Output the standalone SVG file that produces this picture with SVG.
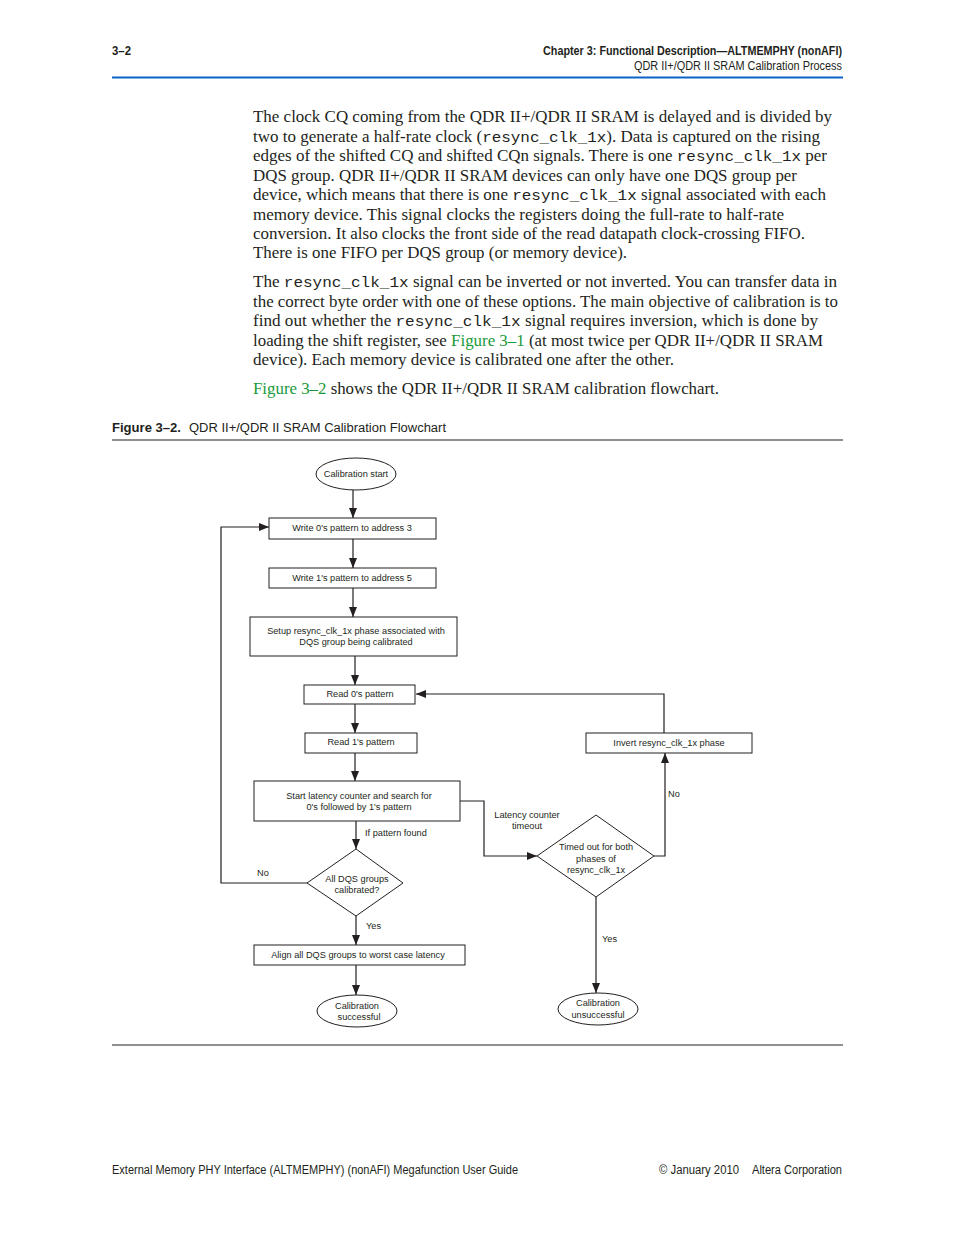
<svg xmlns="http://www.w3.org/2000/svg" width="954" height="1235" viewBox="0 0 954 1235">
<style>
.hd{font-family:"Liberation Sans",Arial,sans-serif;font-size:12px;fill:#231f20}
.b{font-weight:bold}
.body{font-family:"Liberation Serif","Times New Roman",serif;font-size:16px;fill:#231f20}
.mono{font-family:"Liberation Mono","Courier New",monospace;font-size:15px}
.lnk{fill:#1a9a3a}
.n{fill:#fff;stroke:#231f20;stroke-width:1}
.t{font-family:"Liberation Sans",Arial,sans-serif;font-size:9.2px;fill:#231f20;text-anchor:middle}
.lbl{font-family:"Liberation Sans",Arial,sans-serif;font-size:9.2px;fill:#231f20}
.c{fill:none;stroke:#231f20;stroke-width:1.2}
</style>
<defs>
<marker id="ah" viewBox="0 0 10 10" refX="10" refY="5" markerWidth="10" markerHeight="10" markerUnits="userSpaceOnUse" orient="auto">
<path d="M0,1 L10,5 L0,9 Z" fill="#231f20"/>
</marker>
</defs>
<rect width="954" height="1235" fill="#fff"/>
<g id="header">
<text class="hd b" x="112" y="55" textLength="19" lengthAdjust="spacingAndGlyphs">3–2</text>
<text class="hd b" x="842" y="55" text-anchor="end" textLength="299" lengthAdjust="spacingAndGlyphs">Chapter 3:  Functional Description—ALTMEMPHY (nonAFI)</text>
<text class="hd" x="842" y="70" text-anchor="end" textLength="208" lengthAdjust="spacingAndGlyphs">QDR II+/QDR II SRAM Calibration Process</text>
<line x1="112" y1="77.5" x2="843" y2="77.5" stroke="#0a63c9" stroke-width="2"/>
</g>
<g id="bodytext" class="body">
<text x="253" y="122" textLength="579" lengthAdjust="spacingAndGlyphs">The clock CQ coming from the QDR II+/QDR II SRAM is delayed and is divided by</text>
<text x="253" y="142" textLength="567" lengthAdjust="spacingAndGlyphs">two to generate a half-rate clock (<tspan class="mono">resync_clk_1x</tspan>). Data is captured on the rising</text>
<text x="253" y="161" textLength="574" lengthAdjust="spacingAndGlyphs">edges of the shifted CQ and shifted CQn signals. There is one <tspan class="mono">resync_clk_1x</tspan> per</text>
<text x="253" y="181" textLength="544" lengthAdjust="spacingAndGlyphs">DQS group. QDR II+/QDR II SRAM devices can only have one DQS group per</text>
<text x="253" y="200" textLength="573" lengthAdjust="spacingAndGlyphs">device, which means that there is one <tspan class="mono">resync_clk_1x</tspan> signal associated with each</text>
<text x="253" y="220" textLength="531" lengthAdjust="spacingAndGlyphs">memory device. This signal clocks the registers doing the full-rate to half-rate</text>
<text x="253" y="239" textLength="552" lengthAdjust="spacingAndGlyphs">conversion. It also clocks the front side of the read datapath clock-crossing FIFO.</text>
<text x="253" y="258" textLength="374" lengthAdjust="spacingAndGlyphs">There is one FIFO per DQS group (or memory device).</text>
<text x="253" y="287" textLength="584" lengthAdjust="spacingAndGlyphs">The <tspan class="mono">resync_clk_1x</tspan> signal can be inverted or not inverted. You can transfer data in</text>
<text x="253" y="307" textLength="585" lengthAdjust="spacingAndGlyphs">the correct byte order with one of these options. The main objective of calibration is to</text>
<text x="253" y="326" textLength="565" lengthAdjust="spacingAndGlyphs">find out whether the <tspan class="mono">resync_clk_1x</tspan> signal requires inversion, which is done by</text>
<text x="253" y="346" textLength="570" lengthAdjust="spacingAndGlyphs">loading the shift register, see <tspan class="lnk">Figure 3–1</tspan> (at most twice per QDR II+/QDR II SRAM</text>
<text x="253" y="365" textLength="421" lengthAdjust="spacingAndGlyphs">device). Each memory device is calibrated one after the other.</text>
<text x="253" y="394" textLength="466" lengthAdjust="spacingAndGlyphs"><tspan class="lnk">Figure 3–2</tspan> shows the QDR II+/QDR II SRAM calibration flowchart.</text>
</g>
<g id="caption">
<text class="hd b" x="112" y="432" font-size="13" textLength="69" lengthAdjust="spacingAndGlyphs">Figure 3–2.</text>
<text class="hd" x="189" y="432" font-size="13" textLength="257" lengthAdjust="spacingAndGlyphs">QDR II+/QDR II SRAM Calibration Flowchart</text>
<line x1="112" y1="440" x2="843" y2="440" stroke="#231f20" stroke-width="1"/>
</g>
<g id="connectors">
<line class="c" x1="353" y1="490" x2="353" y2="518" marker-end="url(#ah)"/>
<line class="c" x1="353" y1="539" x2="353" y2="568" marker-end="url(#ah)"/>
<line class="c" x1="353" y1="588" x2="353" y2="617" marker-end="url(#ah)"/>
<line class="c" x1="355" y1="656" x2="355" y2="685" marker-end="url(#ah)"/>
<line class="c" x1="355" y1="704" x2="355" y2="733" marker-end="url(#ah)"/>
<line class="c" x1="355" y1="753" x2="355" y2="781" marker-end="url(#ah)"/>
<line class="c" x1="356" y1="821" x2="356" y2="849" marker-end="url(#ah)"/>
<polyline class="c" points="307,883 221,883 221,527 269,527" marker-end="url(#ah)"/>
<line class="c" x1="356" y1="916" x2="356" y2="945" marker-end="url(#ah)"/>
<line class="c" x1="356" y1="965" x2="356" y2="995" marker-end="url(#ah)"/>
<polyline class="c" points="460,801 484,801 484,856 537,856" marker-end="url(#ah)"/>
<polyline class="c" points="654,856 665,856 665,753" marker-end="url(#ah)"/>
<polyline class="c" points="664,733 664,694 416,694" marker-end="url(#ah)"/>
<line class="c" x1="596" y1="897" x2="596" y2="993" marker-end="url(#ah)"/>
<text class="lbl" x="365" y="836">If pattern found</text>
<text class="lbl" x="257" y="876">No</text>
<text class="lbl" x="366" y="929">Yes</text>
<text class="t" x="527" y="818">Latency counter</text>
<text class="t" x="527" y="829">timeout</text>
<text class="lbl" x="668" y="797">No</text>
<text class="lbl" x="602" y="942">Yes</text>
</g>
<g id="start">
<ellipse class="n" cx="356" cy="474" rx="40" ry="16"/>
<text class="t" x="356" y="477">Calibration start</text>
</g>
<g id="write0">
<rect class="n" x="269" y="518" width="167" height="21"/>
<text class="t" x="352" y="531">Write 0's pattern to address 3</text>
</g>
<g id="write1">
<rect class="n" x="269" y="568" width="167" height="20"/>
<text class="t" x="352" y="581">Write 1's pattern to address 5</text>
</g>
<g id="setup">
<rect class="n" x="250" y="617" width="207" height="39"/>
<text class="t" x="356" y="634">Setup resync_clk_1x phase associated with</text>
<text class="t" x="356" y="645">DQS group being calibrated</text>
</g>
<g id="read0">
<rect class="n" x="304" y="685" width="111" height="19"/>
<text class="t" x="360" y="697">Read 0's pattern</text>
</g>
<g id="read1">
<rect class="n" x="305" y="733" width="112" height="20"/>
<text class="t" x="361" y="745">Read 1's pattern</text>
</g>
<g id="latency">
<rect class="n" x="254" y="781" width="206" height="40"/>
<text class="t" x="359" y="799">Start latency counter and search for</text>
<text class="t" x="359" y="810">0's followed by 1's pattern</text>
</g>
<g id="alldqs">
<polygon class="n" points="356,849 403,883 356,916 307,883"/>
<text class="t" x="357" y="882">All DQS groups</text>
<text class="t" x="357" y="893">calibrated?</text>
</g>
<g id="align">
<rect class="n" x="254" y="945" width="211" height="20"/>
<text class="t" x="358" y="958">Align all DQS groups to worst case latency</text>
</g>
<g id="success">
<ellipse class="n" cx="357" cy="1011" rx="40" ry="16"/>
<text class="t" x="357" y="1009">Calibration</text>
<text class="t" x="359" y="1020">successful</text>
</g>
<g id="timedout">
<polygon class="n" points="596,815 654,856 596,897 537,856"/>
<text class="t" x="596" y="850">Timed out for both</text>
<text class="t" x="596" y="862">phases of</text>
<text class="t" x="596" y="873">resync_clk_1x</text>
</g>
<g id="invert">
<rect class="n" x="586" y="733" width="166" height="20"/>
<text class="t" x="669" y="746">Invert resync_clk_1x phase</text>
</g>
<g id="unsuccess">
<ellipse class="n" cx="598" cy="1009" rx="40" ry="16"/>
<text class="t" x="598" y="1006">Calibration</text>
<text class="t" x="598" y="1018">unsuccessful</text>
</g>
<g id="footer">
<line x1="112" y1="1045" x2="843" y2="1045" stroke="#231f20" stroke-width="1"/>
<text class="hd" x="112" y="1174" textLength="406" lengthAdjust="spacingAndGlyphs">External Memory PHY Interface (ALTMEMPHY) (nonAFI) Megafunction User Guide</text>
<text class="hd" x="659" y="1174" textLength="80" lengthAdjust="spacingAndGlyphs">© January 2010</text>
<text class="hd" x="842" y="1174" text-anchor="end" textLength="90" lengthAdjust="spacingAndGlyphs">Altera Corporation</text>
</g>
</svg>
